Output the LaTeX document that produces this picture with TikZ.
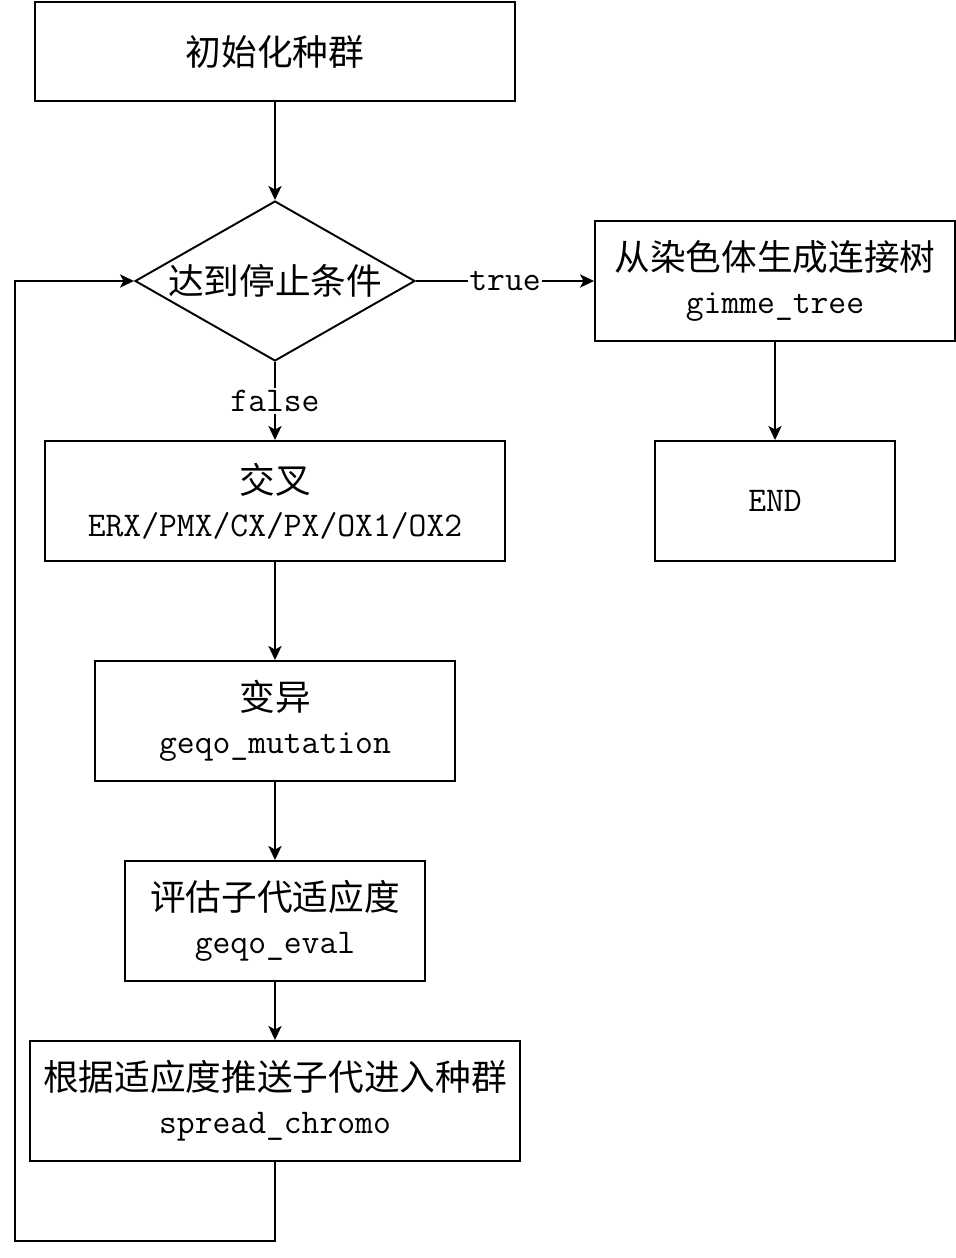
\documentclass[tikz,border=0pt]{standalone}
\usepackage{fontspec}
\newfontfamily\cjk{Noto Sans CJK SC}
\usetikzlibrary{positioning,shapes.geometric,arrows.meta}

\tikzset{
	stepbox/.style={draw, line width=1.1pt, minimum height=2.4cm, align=center, inner sep=0pt, font=\ttfamily\fontsize{19.7}{24.5}\selectfont},
	decision/.style={draw, diamond, line width=1.1pt, aspect=1.75, minimum width=5.6cm, minimum height=3.2cm, inner sep=0pt},
	flow/.style={draw, line width=1.1pt, -{Stealth[length=8pt, width=7.5pt, inset=2pt]}},
	lbl/.style={fill=white, inner sep=1pt, font=\ttfamily\fontsize{19.7}{24}\selectfont},
}
\newcommand{\zh}[1]{{\cjk\fontsize{20.3}{24.5}\selectfont #1}}

\begin{document}
\begin{tikzpicture}[x=0.02cm, y=-0.02cm]
	\useasboundingbox (0,0) rectangle (956,1258);
	
	% Main column
	\node[stepbox, minimum width=9.6cm, minimum height=1.98cm] (init) at (275,51.5) {\zh{初始化种群}};
	\node[decision] (stop) at (275,281) {\makebox[0pt]{\zh{达到停止条件}}};
	\node[stepbox, minimum width=9.2cm] (cross) at (275,501) {\zh{交叉}\\ERX/PMX/CX/PX/OX1/OX2};
	\node[stepbox, minimum width=7.2cm] (mut) at (275,721) {\zh{变异}\\geqo\_mutation};
	\node[stepbox, minimum width=6cm] (eval) at (275,921) {\zh{评估子代适应度}\\geqo\_eval};
	\node[stepbox, minimum width=9.8cm] (spread) at (275,1101) {\zh{根据适应度推送子代进入种群}\\spread\_chromo};
	
	% Right column
	\node[stepbox, minimum width=7.2cm] (tree) at (775,281) {\zh{从染色体生成连接树}\\gimme\_tree};
	\node[stepbox, minimum width=4.8cm] (end) at (775,501) {END};
	
	% Loop back corners
	\coordinate (loopA) at (275,1241);
	\coordinate (loopB) at (15,1241);
	\coordinate (loopC) at (15,281);
	
	\draw[flow] (init) -- (stop);
	\draw[flow] (stop) -- node[lbl] {true} (tree);
	\draw[flow] (stop) -- node[lbl] {false} (cross);
	\draw[flow] (tree) -- (end);
	\draw[flow] (cross) -- (mut);
	\draw[flow] (mut) -- (eval);
	\draw[flow] (eval) -- (spread);
	\draw[flow] (spread) -- (loopA) -- (loopB) -- (loopC) -- (stop);
\end{tikzpicture}
\end{document}
